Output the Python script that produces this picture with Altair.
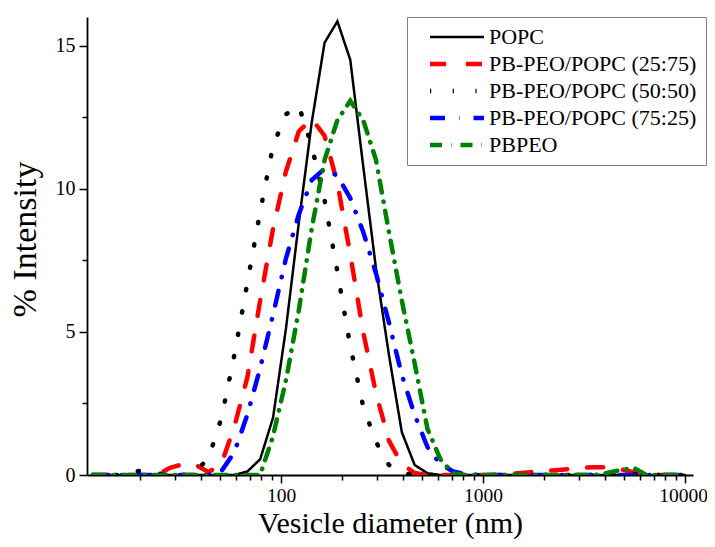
import altair as alt
import pandas as pd

# DLS size bins (nm)
sizes = [11.70, 13.54, 15.69, 18.17, 21.04, 24.36, 28.21, 32.67, 37.84, 43.82,
         50.75, 58.77, 68.06, 78.82, 91.28, 105.7, 122.4, 141.8, 164.2, 190.1,
         220.2, 255.0, 295.3, 342.0, 396.1, 458.7, 531.2, 615.1, 712.4, 825.0,
         955.4, 1106, 1281, 1484, 1718, 1990, 2305, 2669, 3091, 3580,
         4145, 4801, 5560, 6439, 7456, 8635, 10000]

popc = [0, 0, 0, 0, 0, 0, 0, 0, 0, 0,
        0, 0, 0.12, 0.55, 2.0, 5.1, 8.8, 12.3, 15.1, 15.85,
        14.5, 10.8, 7.2, 4.2, 1.5, 0.35, 0.06, 0, 0, 0,
        0, 0, 0, 0, 0, 0, 0, 0, 0, 0,
        0, 0, 0, 0, 0, 0, 0]

pbpeo_popc_25_75 = [0, 0, 0, 0, 0, 0, 0.25, 0.38, 0.35, 0.1,
                    0.4, 1.7, 3.4, 6.1, 8.6, 10.6, 12.0, 12.45, 11.85, 10.2,
                    7.7, 5.0, 2.85, 1.2, 0.38, 0.07, 0, 0, 0, 0,
                    0, 0, 0.02, 0.06, 0.1, 0.13, 0.17, 0.21, 0.25, 0.27,
                    0.27, 0.2, 0.1, 0, 0, 0, 0]

pbpeo_popc_50_50 = [0, 0, 0, 0.12, 0.15, 0.05, 0.03, 0, 0.12, 0.6,
                    2.0, 4.2, 6.7, 9.2, 11.5, 12.6, 12.9, 11.5, 9.6, 7.1,
                    4.5, 2.4, 1.15, 0.35, 0.07, 0, 0, 0, 0, 0,
                    0, 0, 0, 0, 0, 0, 0, 0, 0, 0,
                    0.05, 0.15, 0.03, 0, 0, 0, 0]

pbpeo_popc_75_25 = [0, 0, 0, 0, 0, 0, 0, 0, 0, 0,
                    0.14, 0.8, 2.1, 3.73, 5.6, 7.56, 9.1, 10.3, 10.7, 10.45,
                    9.67, 8.5, 7.04, 5.33, 3.5, 2.1, 0.97, 0.38, 0.12, 0.03,
                    0, 0, 0, 0, 0, 0, 0, 0, 0, 0,
                    0, 0, 0, 0, 0, 0, 0]

pbpeo = [0, 0, 0, 0, 0, 0, 0, 0, 0, 0,
         0, 0, 0, 0, 1.36, 3.3, 5.75, 8.6, 11.0, 12.4,
         13.07, 12.4, 11.0, 8.5, 6.1, 3.9, 1.6, 0.55, 0.05, 0,
         0, 0, 0, 0, 0, 0, 0, 0, 0, 0,
         0.08, 0.17, 0.25, 0, 0, 0, 0]

names = ["POPC", "PB-PEO/POPC (25:75)", "PB-PEO/POPC (50:50)",
         "PB-PEO/POPC (75:25)", "PBPEO"]
series_values = [popc, pbpeo_popc_25_75, pbpeo_popc_50_50, pbpeo_popc_75_25, pbpeo]
colors = ["#000000", "#ff0000", "#000000", "#0000ff", "#008000"]
dashes = [[1, 0], [16, 20], [1.2, 21.5], [15, 14, 0.5, 14], [12, 9, 0.5, 9]]

x_major = [100, 1000, 10000]
x_minor = [20, 30, 40, 50, 60, 70, 80, 90,
           200, 300, 400, 500, 600, 700, 800, 900,
           2000, 3000, 4000, 5000, 6000, 7000, 8000, 9000]
y_ticks = [0, 2.5, 5, 7.5, 10, 12.5, 15]

rows = []
for name, vals in zip(names, series_values):
    for s, v in zip(sizes, vals):
        rows.append({"size": s, "intensity": v, "series": name})
df = pd.DataFrame(rows)

FONT = "Liberation Serif"

legend = alt.Legend(
    orient="none", legendX=320, legendY=0, title=None,
    symbolType="M-2.7,0L2.7,0", symbolSize=400, symbolOffset=30,
    symbolStrokeWidth=alt.ExprRef("datum.value == 'POPC' ? 2.5 : 4.5"),
    labelOffset=21, labelFont=FONT, labelFontSize=22, labelColor="black",
    labelLimit=0, padding=9, rowPadding=5,
    strokeColor="#808080", fillColor="white",
)

x_major_test = "datum.value == 100 || datum.value == 1000 || datum.value == 10000"
y_major_test = "datum.value % 5 == 0"

chart = alt.Chart(df).mark_line(strokeCap="round", clip=True).encode(
    x=alt.X("size:Q",
            scale=alt.Scale(type="log", domain=[10.95, 10950], nice=False),
            axis=alt.Axis(values=x_major + x_minor,
                          title="Vesicle diameter (nm)",
                          labelExpr=f"({x_major_test}) ? format(datum.value, 'd') : ''",
                          tickSize={"condition": {"test": x_major_test, "value": 8}, "value": 5},
                          labelOffset={"condition": {"test": "datum.value == 10000", "value": -2}, "value": 0},
                          labelOverlap=False, grid=False,
                          labelFont=FONT, labelFontSize=19.5, labelColor="black",
                          titleFont=FONT, titleFontSize=30, titleFontWeight="normal",
                          titleColor="black", titlePadding=4, labelPadding=3,
                          domainColor="black", domainWidth=1.8,
                          tickColor="black", tickWidth=1.5)),
    y=alt.Y("intensity:Q",
            scale=alt.Scale(domain=[0, 16], nice=False),
            axis=alt.Axis(values=y_ticks,
                          title="% Intensity",
                          labelExpr=f"({y_major_test}) ? format(datum.value, 'd') : ''",
                          tickSize={"condition": {"test": y_major_test, "value": 8}, "value": 5},
                          labelOverlap=False, grid=False,
                          labelFont=FONT, labelFontSize=20, labelColor="black",
                          titleFont=FONT, titleFontSize=34, titleFontWeight="normal",
                          titleColor="black", titleX=-45, titleY=222, labelPadding=4,
                          domainColor="black", domainWidth=1.8,
                          tickColor="black", tickWidth=1.5)),
    color=alt.Color("series:N", scale=alt.Scale(domain=names, range=colors), legend=legend),
    strokeDash=alt.StrokeDash("series:N", scale=alt.Scale(domain=names, range=dashes), legend=legend),
    strokeWidth=alt.condition("datum.series == 'POPC'", alt.value(2.5), alt.value(4.5)),
).properties(
    width=606, height=458,
    autosize=alt.AutoSizeParams(type="none"),
    padding={"left": 79, "top": 9, "right": 14, "bottom": 64},
    background="white",
).configure_view(stroke=None)

chart.save("out.html", embed_options={"renderer": "svg", "actions": False})
